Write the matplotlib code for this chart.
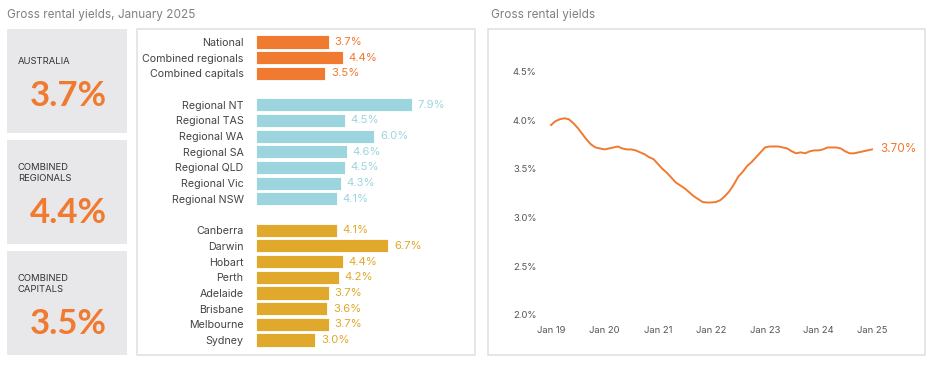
import numpy as np
import matplotlib
matplotlib.use("Agg")
import matplotlib.pyplot as plt
from matplotlib.patches import Rectangle

plt.rcParams['font.family'] = ['Inter', 'DejaVu Sans']

# --- data ---
summary_names = ['AUSTRALIA', 'COMBINED\nREGIONALS', 'COMBINED\nCAPITALS']
summary_values = ['3.7%', '4.4%', '3.5%']

group_names = ['National', 'Combined regionals', 'Combined capitals']
group_values = [3.7, 4.4, 3.5]
regional_names = ['Regional NT', 'Regional TAS', 'Regional WA', 'Regional SA',
                  'Regional QLD', 'Regional Vic', 'Regional NSW']
regional_values = [7.9, 4.5, 6.0, 4.6, 4.5, 4.3, 4.1]
capital_names = ['Canberra', 'Darwin', 'Hobart', 'Perth', 'Adelaide',
                 'Brisbane', 'Melbourne', 'Sydney']
capital_values = [4.1, 6.7, 4.4, 4.2, 3.7, 3.6, 3.7, 3.0]

# monthly gross rental yield, Jan 2019 .. Jan 2025
yields = [3.95, 3.99, 4.01, 4.02, 4.01, 3.97, 3.92, 3.86, 3.80, 3.75, 3.72, 3.71,
          3.70, 3.71, 3.72, 3.73, 3.71, 3.70, 3.70, 3.69, 3.67, 3.65, 3.62, 3.60,
          3.55, 3.50, 3.46, 3.41, 3.36, 3.33, 3.30, 3.26, 3.22, 3.19, 3.16, 3.155,
          3.155, 3.16, 3.18, 3.22, 3.27, 3.34, 3.42, 3.47, 3.53, 3.57, 3.62, 3.67,
          3.72, 3.73, 3.73, 3.73, 3.72, 3.71, 3.68, 3.66, 3.67, 3.66, 3.68, 3.69,
          3.69, 3.70, 3.72, 3.72, 3.72, 3.71, 3.68, 3.66, 3.66, 3.67, 3.68, 3.69,
          3.70]
year_labels = ['Jan 19', 'Jan 20', 'Jan 21', 'Jan 22', 'Jan 23', 'Jan 24', 'Jan 25']

ORANGE = '#F07A2F'
BLUE = '#9DD5DF'
GOLD = '#E0A92B'
GREY_BOX = '#E8E8EA'
TEXT = '#444444'

W, H = 940, 372
fig = plt.figure(figsize=(W / 100, H / 100), dpi=100)

def fx(px):
    return px / W

def fy(py):
    return 1 - py / H

# background axes in pixel coords
bg = fig.add_axes([0, 0, 1, 1])
bg.set_xlim(0, W)
bg.set_ylim(H, 0)
bg.axis('off')

bg.text(7, 15, 'Gross rental yields, January 2025', fontsize=8.5, color='#808080', va='center')
bg.text(491, 15, 'Gross rental yields', fontsize=8.5, color='#808080', va='center')

box_tops = [29, 140, 251]
for top, name, val in zip(box_tops, summary_names, summary_values):
    bg.add_patch(Rectangle((7, top), 120, 104, facecolor=GREY_BOX, edgecolor='none'))
    bg.text(18, top + 33, name, fontsize=6.8, color='#333333',
            va='center', linespacing=1.35)
    bg.text(68, top + 67 if '\n' not in name else top + 73, val, fontsize=25, color=ORANGE,
            fontweight='bold', ha='center', va='center', family=['Lato', 'DejaVu Sans'])

bg.add_patch(Rectangle((137, 29), 338, 326, facecolor='white', edgecolor='#E2E2E2', lw=1.2))
bg.add_patch(Rectangle((488, 29), 437, 326, facecolor='white', edgecolor='#E2E2E2', lw=1.2))

# --- bar panel ---
names = group_names + [''] + regional_names + [''] + capital_names
values = group_values + [0] + regional_values + [0] + capital_values
colors = [ORANGE] * 3 + ['none'] + [BLUE] * 7 + ['none'] + [GOLD] * 8
ypos = np.arange(len(names))

step = 15.68
top_px = 42 - step / 2
bot_px = 340 + step / 2
left_px, right_px = 256, 470
bx = fig.add_axes([fx(left_px), fy(bot_px), fx(right_px - left_px), (bot_px - top_px) / H])
bx.set_xlim(0, (right_px - left_px) / 19.7)
bx.set_ylim(len(names) - 0.5, -0.5)
for y, v, c, n in zip(ypos, values, colors, names):
    if not n:
        continue
    bx.barh(y, v, height=0.84, color=c, edgecolor='white', linewidth=0.6)
    bx.text(v + 0.3, y, f'{v:.1f}%', color=c, fontsize=8.2, va='center', ha='left')
bx.set_yticks(ypos)
bx.set_yticklabels(names, fontsize=7.7, color=TEXT)
bx.tick_params(axis='y', length=0, pad=9)
bx.set_xticks([])
for s in bx.spines.values():
    s.set_visible(False)
bx.patch.set_alpha(0)

# --- line panel ---
px_per_month = 53.5 / 12
px_per_pct = 97.4
ax_left, ax_right = 545, 895
ax_top, ax_bot = 60, 315
lx = fig.add_axes([fx(ax_left), fy(ax_bot), fx(ax_right - ax_left), (ax_bot - ax_top) / H])
lx.set_xlim((ax_left - 551) / px_per_month, (ax_right - 551) / px_per_month)
lx.set_ylim(2.0, 2.0 + (ax_bot - ax_top) / px_per_pct)
months = np.arange(len(yields))
lx.plot(months, yields, color=ORANGE, lw=1.4)
lx.annotate(f'{yields[-1]:.2f}%', (months[-1], yields[-1]), xytext=(6, 0),
            textcoords='offset points', color=ORANGE, fontsize=8.5, va='center')
lx.set_yticks([2.0, 2.5, 3.0, 3.5, 4.0, 4.5])
lx.set_yticklabels(['2.0%', '2.5%', '3.0%', '3.5%', '4.0%', '4.5%'], fontsize=6.8, color='#555555')
lx.set_xticks(np.arange(0, 73, 12))
lx.set_xticklabels(year_labels, fontsize=6.8, color='#555555')
lx.tick_params(length=0)
lx.tick_params(axis='y', pad=6)
lx.tick_params(axis='x', pad=8)
for s in lx.spines.values():
    s.set_visible(False)
lx.patch.set_alpha(0)

fig.savefig('out.png', dpi=100)
